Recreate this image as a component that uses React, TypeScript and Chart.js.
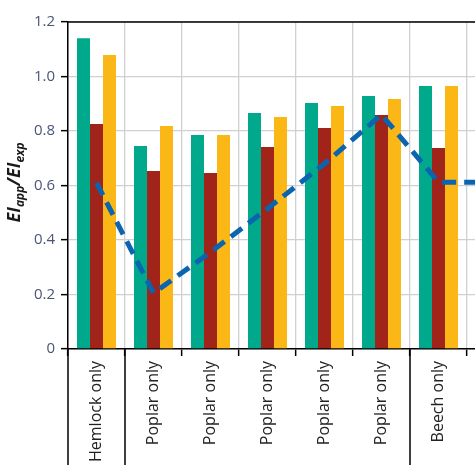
import React, { useRef, useEffect } from 'react';
import Chart from 'chart.js/auto';

const categories = [
  'Hemlock only',
  'Poplar only',
  'Poplar only',
  'Poplar only',
  'Poplar only',
  'Poplar only',
  'Beech only',
];
const tealValues = [1.14, 0.745, 0.785, 0.866, 0.903, 0.928, 0.965];
const redValues = [0.826, 0.653, 0.646, 0.741, 0.811, 0.859, 0.738];
const orangeValues = [1.079, 0.818, 0.785, 0.851, 0.892, 0.917, 0.965];
const lineValues = [0.61, 0.205, 0.355, 0.515, 0.68, 0.86, 0.612];
// the dashed line carries on past the cropped right edge at the same level
const lineTail = 0.612;
const yTicks = [0, 0.2, 0.4, 0.6, 0.8, 1.0, 1.2];

const axisTitle = [
  { text: 'EI', sub: false },
  { text: 'app', sub: true },
  { text: '/EI', sub: false },
  { text: 'exp', sub: true },
];

const frame = {
  id: 'frame',
  afterDraw(chart: any) {
    const { ctx, chartArea, scales } = chart;
    const x = scales.x;
    const half = (x.getPixelForValue(1) - x.getPixelForValue(0)) / 2;
    ctx.save();
    ctx.strokeStyle = '#000';
    ctx.lineWidth = 1.5;
    ctx.beginPath();
    // top border
    ctx.moveTo(chartArea.left, chartArea.top);
    ctx.lineTo(chartArea.right, chartArea.top);
    // y axis carried down through the label band
    ctx.moveTo(chartArea.left, chartArea.bottom);
    ctx.lineTo(chartArea.left, chart.height);
    // separators where the species changes
    for (let i = 1; i < categories.length; i++) {
      if (categories[i] !== categories[i - 1]) {
        const px = x.getPixelForValue(i) - half;
        ctx.moveTo(px, chartArea.bottom);
        ctx.lineTo(px, chart.height);
      }
    }
    ctx.stroke();

    // y axis title with subscripts
    const big = 'italic bold 18px "Open Sans", sans-serif';
    const small = 'italic bold 12px "Open Sans", sans-serif';
    let total = 0;
    for (const p of axisTitle) {
      ctx.font = p.sub ? small : big;
      total += ctx.measureText(p.text).width;
    }
    const cy = (chartArea.top + chartArea.bottom) / 2 - 3;
    ctx.translate(20, cy);
    ctx.rotate(-Math.PI / 2);
    ctx.fillStyle = '#1a1a1a';
    ctx.textBaseline = 'alphabetic';
    let pos = -total / 2;
    for (const p of axisTitle) {
      ctx.font = p.sub ? small : big;
      ctx.fillText(p.text, pos, p.sub ? 4 : 0);
      pos += ctx.measureText(p.text).width;
    }
    ctx.restore();
  },
};

const App: React.FC = () => {
  const canvasRef = useRef<HTMLCanvasElement>(null);
  const chartRef = useRef<Chart | null>(null);

  useEffect(() => {
    if (!canvasRef.current) return;
    if (chartRef.current) chartRef.current.destroy();

    chartRef.current = new Chart(canvasRef.current, {
      type: 'bar',
      data: {
        labels: [...categories, ''],
        datasets: [
          {
            type: 'line',
            data: [...lineValues, lineTail],
            borderColor: '#0a64b0',
            borderWidth: 5,
            borderDash: [14, 8],
            pointRadius: 0,
            tension: 0,
            fill: false,
            order: 0,
          } as any,
          { data: tealValues, backgroundColor: '#00a88c', order: 1 },
          { data: redValues, backgroundColor: '#a0241a', order: 1 },
          { data: orangeValues, backgroundColor: '#fbb715', order: 1 },
        ],
      },
      options: {
        animation: false,
        responsive: true,
        maintainAspectRatio: false,
        layout: { padding: { top: 22, right: 6, bottom: 0, left: 0 } },
        datasets: {
          bar: { categoryPercentage: 0.684, barPercentage: 1 },
        },
        plugins: {
          legend: { display: false },
          tooltip: { enabled: false },
        },
        scales: {
          x: {
            grid: {
              color: '#d0d0d0',
              lineWidth: 1.3,
              tickColor: '#000',
              tickLength: 7,
              tickWidth: 1.5,
            },
            border: { color: '#000', width: 1.5 },
            ticks: {
              autoSkip: false,
              minRotation: 90,
              maxRotation: 90,
              padding: 5,
              color: '#222',
              font: { family: '"Open Sans", sans-serif', size: 16 },
            },
            afterFit: (s: any) => {
              s.height = 116;
            },
          },
          y: {
            min: 0,
            max: 1.2,
            afterBuildTicks: (s: any) => {
              s.ticks = yTicks.map((v) => ({ value: v }));
            },
            grid: {
              color: '#d0d0d0',
              lineWidth: 1.3,
              tickColor: '#000',
              tickLength: 7,
              tickWidth: 1.5,
            },
            border: { color: '#000', width: 1.5 },
            ticks: {
              padding: 6,
              color: '#4a5577',
              font: { family: '"Open Sans", sans-serif', size: 15 },
              callback: (v: any) => (Number(v) === 0 ? '0' : Number(v).toFixed(1)),
            },
            afterFit: (s: any) => {
              s.width = 68;
            },
          },
        },
      },
      plugins: [frame],
    });

    return () => {
      if (chartRef.current) {
        chartRef.current.destroy();
        chartRef.current = null;
      }
    };
  }, []);

  return (
    <div style={{ position: 'fixed', left: 0, top: 0, width: 475, height: 465, overflow: 'hidden', background: '#fff' }}>
      <div style={{ position: 'relative', width: 530, height: 465 }}>
        <canvas ref={canvasRef} />
      </div>
    </div>
  );
};

export default App;
